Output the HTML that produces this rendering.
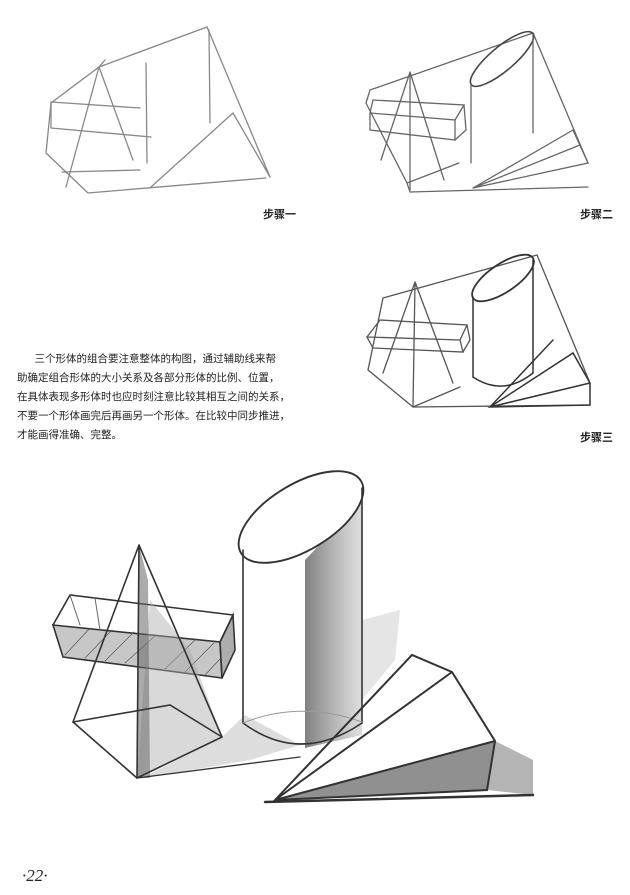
<!DOCTYPE html>
<html><head><meta charset="utf-8"><style>
html,body{margin:0;padding:0;background:#fff;}
body{width:630px;height:895px;position:relative;overflow:hidden;font-family:"Liberation Sans","Noto Sans CJK SC",sans-serif;}
svg{position:absolute;left:0;top:0;}
.lab{position:absolute;font-size:11px;font-weight:bold;color:#222;}
.txt{position:absolute;left:17px;top:350px;width:335px;font-size:10.5px;line-height:19px;color:#222;}
.pn{position:absolute;left:22px;top:866px;font-family:"Liberation Serif",serif;font-style:italic;font-size:17px;color:#222;}
</style></head><body>
<svg width="630" height="895" viewBox="0 0 630 895" fill="none" stroke="#555" stroke-width="1.2" stroke-linecap="round">
<defs>
<linearGradient id="cyl" x1="0" x2="1" y1="0" y2="0">
<stop offset="0" stop-color="#555" stop-opacity="0.75"/>
<stop offset="0.5" stop-color="#777" stop-opacity="0.55"/>
<stop offset="1" stop-color="#aaa" stop-opacity="0.4"/>
</linearGradient>
</defs>
<!-- Step 1 -->
<g stroke="#888" stroke-width="1.3">
<path d="M46 153 L51 103 L99 67 L207 27 L270 177 M46 153 L88 193 M88 193 L266 178 M62 172 L140 170 M99 67 L105 60"/>
<path d="M99 67 L66 187 M99 67 L133 160"/>
<path d="M51 102 L140 108 M51 128 L151 137 M51 102 L51 128"/>
<path d="M146 63 L147 163 M209 30 L210 123"/>
<path d="M151 187 L233 113 L270 177"/>
</g>
<!-- Step 2 -->
<g stroke="#666" stroke-width="1.3">
<path d="M366 103 L370 90 L533 33 L588 163 M366 103 L407 183 L410 192 L588 187 M407 183 L459 163"/>
<path d="M410 72 L381 160 M410 72 L444 180 M410 72 L410 190"/>
<path d="M370 113 L455 120 L455 140 L370 130 Z M370 113 L373 100 L464 105 L455 120 M464 105 L466 130 L455 140"/>
<ellipse cx="502" cy="59" rx="40" ry="12" transform="rotate(-40 502 59)" stroke="#444" stroke-width="1.6"/>
<path d="M471 83 L471 163 M533 35 L533 133"/>
<path d="M473 188 L573 130 L588 163 Z M473 188 L588 163 M473 188 L580 145"/>
</g>
<!-- Step 3 -->
<g stroke="#555" stroke-width="1.3">
<path d="M383 298 L537 255 L590 383 M368 370 L383 298 M368 370 L413 407 L460 387 M413 407 L590 405"/>
<path d="M415 282 L383 373 M415 282 L453 383 M415 282 L413 407"/>
<path d="M367 337 L460 340 L463 352 L373 348 Z M367 337 L380 320 L467 325 L460 340 M467 325 L470 340 L463 352"/>
<ellipse cx="503" cy="278" rx="36" ry="14" transform="rotate(-34 503 278)" stroke="#333" stroke-width="1.8"/>
<path d="M473 297 L473 377 M533 260 L533 373" stroke="#333" stroke-width="1.5"/>
<path d="M473 377 Q503 397 533 373" stroke="#333" stroke-width="1.5"/>
<path d="M490 407 L573 353 L590 383 L590 405 Z M490 407 L590 383 M490 407 L553 340" stroke="#333" stroke-width="1.5"/>
</g>
<!-- Big drawing -->
<g stroke="#333" stroke-width="1.6">
<path d="M140 779 L222 737 L245 715 L300 745 L250 760 Z" fill="#aaa" fill-opacity="0.4" stroke="none"/>
<path d="M362 620 L400 610 L395 660 L362 700 Z" fill="#ccc" fill-opacity="0.5" stroke="none"/>
<path d="M487 790 L495 741 L533 760 L533 795 Z" fill="#777" fill-opacity="0.55" stroke="none"/>
<path d="M53 625 L63 657 L222 678 L220 642 Z" fill="#999" fill-opacity="0.55"/>
<path d="M220 642 L233 615 L235 650 L222 678 Z" fill="#777" fill-opacity="0.6"/>
<path d="M53 625 L70 595 L233 615 L220 642"/>
<path d="M70 595 L80 625 M95 598 L100 630" stroke-width="1" stroke="#666"/>
<g stroke="#555" stroke-width="0.7">
<path d="M65 655 L90 628 M85 658 L112 630 M105 661 L134 632 M125 663 L156 635 M165 669 L196 639 M185 672 L214 643 M205 675 L221 658"/>
</g>
<path d="M150 600 L137 778 L222 737 L190 650 Z" fill="#aaa" fill-opacity="0.45" stroke="none"/>
<path d="M139 545 L137 778 L150 778 L148 580 Z" fill="#666" fill-opacity="0.55" stroke="none"/>
<path d="M139 545 L73 722 M139 545 L137 778 M139 545 L222 737"/>
<path d="M73 722 L137 778 L222 737 M73 722 L170 705 L222 737" />
<path d="M137 778 L300 757" stroke-width="1.3"/>
<path d="M305 560 L362 500 L362 735 L305 748 Z" fill="url(#cyl)" stroke="none"/>
<ellipse cx="301" cy="517" rx="70" ry="33" transform="rotate(-31 301 517)" stroke-width="1.9" fill="#fff"/>
<path d="M243 550 L243 723 M362 488 L362 723"/>
<path d="M243 723 Q300 765 362 723"/>
<path d="M243 723 Q300 700 362 722" stroke="#999" stroke-width="1"/>
<path d="M275 800 L495 741 L487 790 Z" fill="#555" fill-opacity="0.65" stroke="none"/>
<path d="M275 800 L412 655 L452 672 L495 741 L487 790 Z M275 800 L452 672 M275 800 L495 741" stroke-width="2"/>
<path d="M265 802 L533 795" stroke-width="2.5"/>
</g>
</svg>
<div class="lab" style="left:263px;top:206px">步骤一</div>
<div class="lab" style="left:580px;top:206px">步骤二</div>
<div class="lab" style="left:580px;top:429px">步骤三</div>
<div class="txt">&nbsp;&nbsp;&nbsp;&nbsp;&nbsp;&nbsp;三个形体的组合要注意整体的构图，通过辅助线来帮<br>助确定组合形体的大小关系及各部分形体的比例、位置，<br>在具体表现多形体时也应时刻注意比较其相互之间的关系，<br>不要一个形体画完后再画另一个形体。在比较中同步推进，<br>才能画得准确、完整。</div>
<div class="pn">·22·</div>
</body></html>
